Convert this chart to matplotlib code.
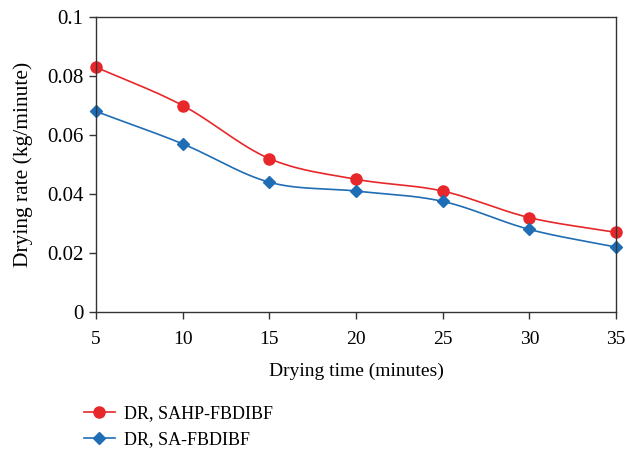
import numpy as np
import matplotlib.pyplot as plt

plt.rcParams["font.family"] = ["Liberation Serif", "DejaVu Serif"]

time_min = [5, 10, 15, 20, 25, 30, 35]
dr_sahp = [0.083, 0.070, 0.052, 0.045, 0.041, 0.032, 0.027]
dr_sa = [0.068, 0.057, 0.044, 0.041, 0.0375, 0.028, 0.022]

RED = "#e8272b"
BLUE = "#1f6db4"


def smooth(x, y, n=30):
    # catmull-rom curve through the points, like Excel's smoothed line
    x = np.asarray(x, float)
    y = np.asarray(y, float)
    px = np.concatenate([[2 * x[0] - x[1]], x, [2 * x[-1] - x[-2]]])
    py = np.concatenate([[2 * y[0] - y[1]], y, [2 * y[-1] - y[-2]]])
    xs, ys = [], []
    t = np.linspace(0, 1, n)
    for i in range(1, len(px) - 2):
        for p, out in ((px, xs), (py, ys)):
            p0, p1, p2, p3 = p[i - 1], p[i], p[i + 1], p[i + 2]
            out.extend(0.5 * ((2 * p1) + (-p0 + p2) * t
                              + (2 * p0 - 5 * p1 + 4 * p2 - p3) * t ** 2
                              + (-p0 + 3 * p1 - 3 * p2 + p3) * t ** 3))
    return xs, ys


fig = plt.figure(figsize=(6.26, 4.49), dpi=100)
ax = fig.add_axes([0.1534, 0.3051, 0.8307, 0.657])

for y, c, m, ms, lab in ((dr_sahp, RED, "o", 8, "DR, SAHP-FBDIBF"),
                         (dr_sa, BLUE, "D", 6, "DR, SA-FBDIBF")):
    sx, sy = smooth(time_min, y)
    ax.plot(sx, sy, color=c, lw=1.2)
    ax.plot(time_min, y, ls="none", marker=m, ms=ms, color=c, clip_on=False)
    ax.plot([], [], color=c, lw=1.2, marker=m, ms=ms, label=lab)

ax.set_xlim(5, 35)
ax.set_ylim(0, 0.1)
ax.set_xticks(time_min)
ax.set_yticks([0, 0.02, 0.04, 0.06, 0.08, 0.1])
ax.set_yticklabels(["0", "0.02", "0.04", "0.06", "0.08", "0.1"])
ax.tick_params(length=5, width=1, color="#333333", direction="out")
ax.tick_params(axis="x", labelsize=14, pad=9)
ax.tick_params(axis="y", labelsize=15, pad=4)
for s in ax.spines.values():
    s.set_color("#333333")
    s.set_linewidth(1)
ax.set_xlabel("Drying time (minutes)", fontsize=14, labelpad=10)
ax.set_ylabel("Drying rate (kg/minute)", fontsize=15.5, labelpad=10)

fig.legend(loc="upper left", bbox_to_anchor=(0.12, 0.118), frameon=False,
           fontsize=13, handlelength=1.7, handletextpad=0.5, labelspacing=0.5,
           borderpad=0)

fig.savefig("out.png", dpi=100)
